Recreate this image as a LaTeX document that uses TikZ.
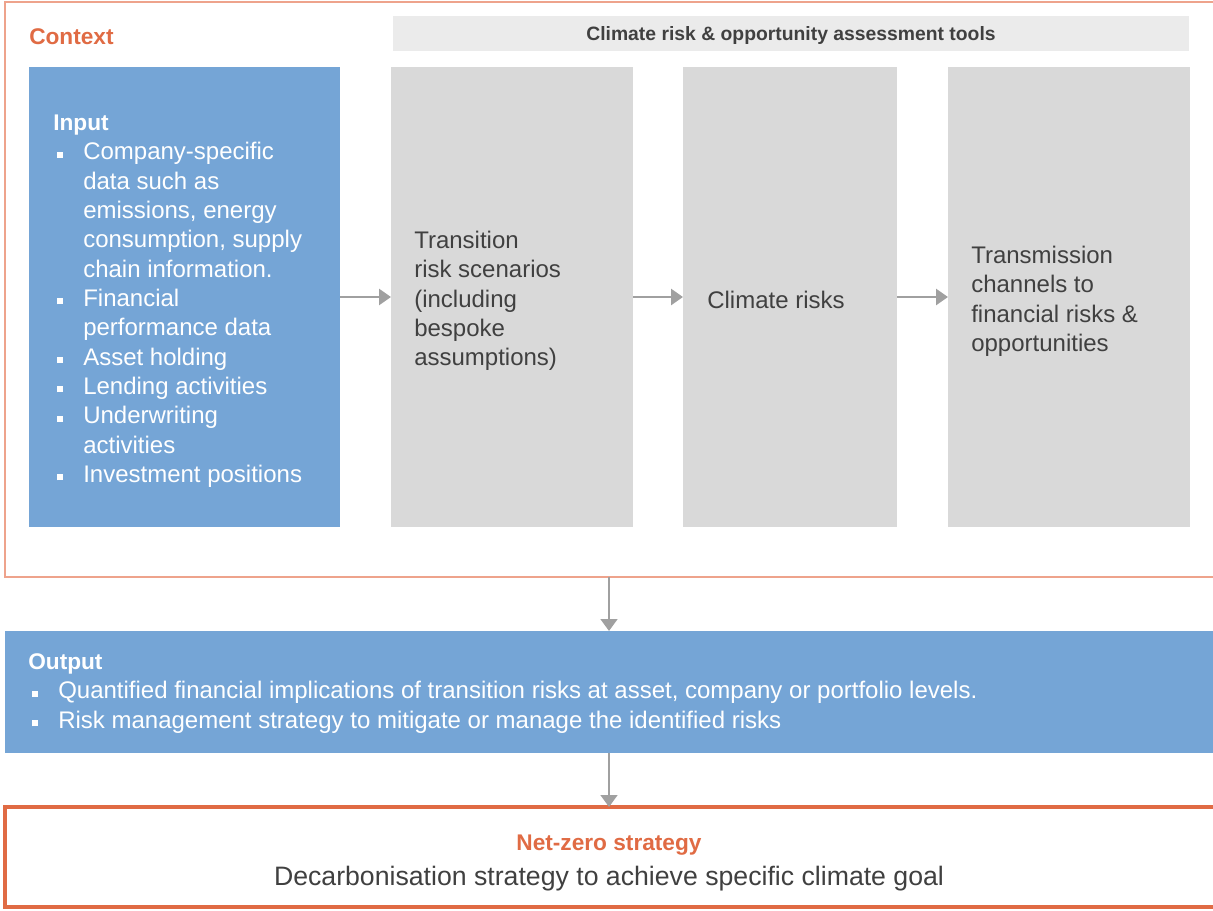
\documentclass[tikz,border=0pt]{standalone}
\usepackage{fontspec}
\setmainfont{Liberation Sans}
\usetikzlibrary{arrows.meta}
\definecolor{ctxline}{RGB}{238,163,140}
\definecolor{orng}{RGB}{224,107,68}
\definecolor{blu}{RGB}{117,165,214}
\definecolor{gbox}{RGB}{217,217,217}
\definecolor{hdrbg}{RGB}{235,235,235}
\definecolor{arrgray}{RGB}{160,160,160}
\definecolor{dtxt}{RGB}{64,64,64}
\newcommand\bulx{\hspace*{3pt}\rule[1.5pt]{4.5pt}{4.5pt}\hspace*{15pt}}
\newcommand\indx{\hspace*{22.5pt}}
\begin{document}
\begin{tikzpicture}[x=0.75pt,y=-0.75pt,
  boxnode/.style={inner sep=0pt, outer sep=0pt, draw=none},
  bodytxt/.style={inner sep=0pt, anchor=north west, align=left, font=\fontsize{18}{22}\selectfont},
  linetxt/.style={inner sep=0pt, font=\fontsize{18}{22}\selectfont},
  harr/.style={draw=arrgray, line width=2pt, -{Triangle[length=9pt,width=12pt]}},
  varr/.style={draw=arrgray, line width=2pt, -{Triangle[length=9pt,width=12.5pt]}}
]
\useasboundingbox (0,0) rectangle (1213,910);
\begin{scope}
\clip (0,0) rectangle (1213,910);
% context frame
\node[boxnode, draw=ctxline, line width=1.5pt, minimum width=911.25pt, minimum height=431.25pt] (ctx) at (612.5,289.5) {};
\node[linetxt, anchor=base west, text=orng, font=\fontsize{17}{20}\selectfont\bfseries] (ctxlabel) at (29,44) {Context};
% header
\node[boxnode, fill=hdrbg, minimum width=597pt, minimum height=26.25pt] (hdr) at (791,33.5) {};
\node[linetxt, anchor=base, text=dtxt, font=\fontsize{14.5}{17}\selectfont\bfseries] (hdrtxt) at (791,40) {Climate risk \& opportunity assessment tools};
% boxes
\node[boxnode, fill=blu, minimum width=233.25pt, minimum height=345pt] (inp) at (184.5,297) {};
\node[boxnode, fill=gbox, minimum width=181.5pt, minimum height=345pt] (g1) at (512,297) {};
\node[boxnode, fill=gbox, minimum width=160.5pt, minimum height=345pt] (g2) at (790,297) {};
\node[boxnode, fill=gbox, minimum width=181.5pt, minimum height=345pt] (g3) at (1069,297) {};
% input text
\node[bodytxt, text=white] (inptxt) at (53,114.5) {{\fontsize{17}{22}\selectfont\bfseries Input}\\
\bulx Company-specific\\
\indx data such as\\
\indx emissions, energy\\
\indx consumption, supply\\
\indx chain information.\\
\bulx Financial\\
\indx performance data\\
\bulx Asset holding\\
\bulx Lending activities\\
\bulx Underwriting\\
\indx activities\\
\bulx Investment positions};
\node[bodytxt, text=dtxt] (g1txt) at (414,231) {Transition\\ risk scenarios\\ (including\\ bespoke\\ assumptions)};
\node[linetxt, anchor=base west, text=dtxt] (g2txt) at (707,308) {Climate risks};
\node[bodytxt, text=dtxt] (g3txt) at (971,246) {Transmission\\ channels to\\ financial risks \&\\ opportunities};
% horizontal arrows
\draw[harr] (inp.east) -- (g1.west);
\draw[harr] (g1.east) -- (g2.west);
\draw[harr] (g2.east) -- (g3.west);
% output
\node[boxnode, fill=blu, minimum width=906pt, minimum height=91.5pt] (out) at (609,692) {};
\node[bodytxt, text=white] (outtxt) at (28,653.5) {{\fontsize{17}{22}\selectfont\bfseries Output}\\
\bulx Quantified financial implications of transition risks at asset, company or portfolio levels.\\
\bulx Risk management strategy to mitigate or manage the identified risks};
% net zero
\node[boxnode, draw=orng, line width=3pt, minimum width=909pt, minimum height=75pt] (nz) at (611,857) {};
\node[linetxt, anchor=base, text=orng, font=\fontsize{17}{20}\selectfont\bfseries] (nzhead) at (609,850) {Net-zero strategy};
\node[linetxt, anchor=base, text=dtxt, font=\fontsize{20}{24}\selectfont] (nztxt) at (609,885) {Decarbonisation strategy to achieve specific climate goal};
% vertical arrows
\draw[varr] (ctx.south -| out.north) -- (out.north);
\draw[varr] (out.south) -- (nz.north -| out.south);
\end{scope}
\end{tikzpicture}
\end{document}
